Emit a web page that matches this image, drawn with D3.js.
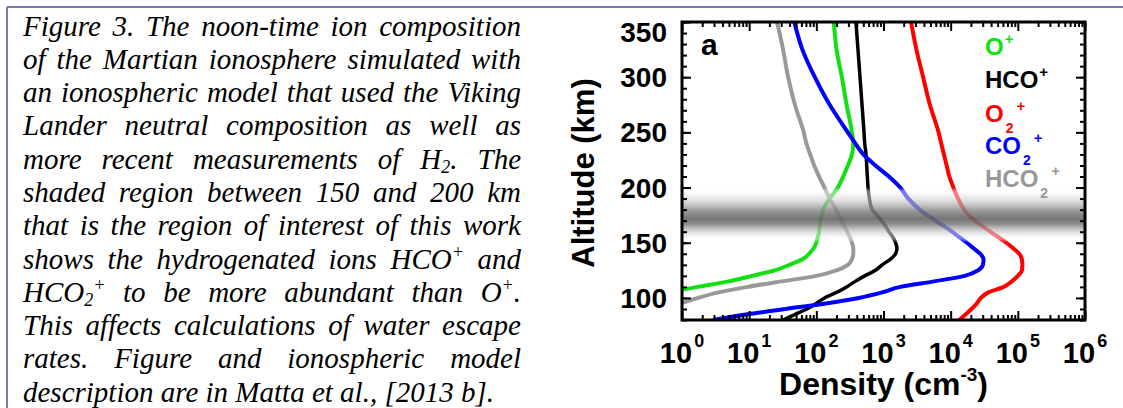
<!DOCTYPE html>
<html>
<head>
<meta charset="utf-8">
<script src="https://cdn.jsdelivr.net/npm/d3@7"></script>
<style>
html, body { margin: 0; padding: 0; background: #fff; width: 1123px; height: 408px; overflow: hidden; }
#caption { position: absolute; left: 23px; top: 9.5px; width: 498px;
  font-family: "Liberation Serif", "Times New Roman", serif; font-style: italic;
  font-size: 29px; line-height: 33.3px; color: #000; }
#caption .ln { text-align: justify; text-align-last: justify; height: 33.3px; }
#caption .ln.last { text-align-last: left; }
#caption sub, #caption sup { font-size: 0.62em; line-height: 0; }
#caption sub { vertical-align: -0.2em; }
#caption sup { vertical-align: 0.6em; }
svg { position: absolute; left: 0; top: 0; }
</style>
</head>
<body>
<script>
// ---------------- DATA ----------------
const altitudes = [80, 85, 90, 95, 100, 105, 110, 115, 120, 125, 130, 135, 140, 145, 150, 155,
                   160, 165, 170, 175, 180, 190, 200, 210, 220, 230, 240, 250, 275, 300, 325, 350];
const densityOplus = [null, null, null, null, null, 0.6, 1.7, 4.9, 11, 24, 40, 62, 78, 91, 100, 105,
                      110, 112, 115, 120, 126, 158, 209, 251, 295, 339, 355, 339, 282, 240, 200, 182];
const densityHCOplus = [32, 48, 72, 100, 132, 200, 282, 380, 525, 759, 955, 1259, 1514, 1585, 1514, 1380,
                        1202, 1072, 933, 794, 676, 617, 589, 575, 562, 550, 525, 513, 479, 447, 417, 389];
const densityO2plus = [13500, 16600, 20400, 24500, 28200, 36300, 61700, 81300, 100000, 115000, 117000, 115000, 105000, 85000, 67600, 51300,
                       38900, 29500, 22900, 18600, 15800, 12900, 11000, 9550, 8710, 7940, 7240, 6610, 4900, 3890, 3090, 2570];
const densityCO2plus = [2.9, 8.9, 35, 138, 427, 955, 1778, 5623, 16200, 25700, 30200, 30900, 27500, 21900, 17400, 13500,
                        10500, 7940, 5890, 4470, 3470, 2340, 1778, 1202, 759, 501, 380, 295, 158, 95, 62, 47];
const densityHCO2plus = [null, null, 0.5, 0.95, 1.74, 3.5, 9.5, 30, 100, 200, 295, 339, 355, 355, 339, 316,
                         288, 263, 240, 214, 195, 158, 132, 110, 93, 81, 71, 65, 48, 38, 32, 26];

const seriesKeys = ["O+", "HCO+", "O2+", "CO2+", "HCO2+"];
const seriesValues = [densityOplus, densityHCOplus, densityO2plus, densityCO2plus, densityHCO2plus];

const altitudeTicks = [100, 150, 200, 250, 300, 350];
const altitudeMinorTicks = d3.range(80, 351, 10);
const densityDecades = [0, 1, 2, 3, 4, 5, 6];
const shadedRegion = [150, 200];
const panelLabel = "a";
const xTitle = "Density (cm";
const xTitleSup = "-3";
const yTitle = "Altitude (km)";

const captionLines = [
  "Figure 3. The noon-time ion composition",
  "of the Martian ionosphere simulated with",
  "an ionospheric model that used the Viking",
  "Lander neutral composition as well as",
  "more recent measurements of H<sub>2</sub>. The",
  "shaded region between 150 and 200 km",
  "that is the region of interest of this work",
  "shows the hydrogenated ions HCO<sup>+</sup> and",
  "HCO<sub>2</sub><sup>+</sup> to be more abundant than O<sup>+</sup>.",
  "This affects calculations of water escape",
  "rates. Figure and ionospheric model",
  "description are in Matta et al., [2013 b]."
];

// legend: base text, subscript, superscript
const legendBase = ["O", "HCO", "O", "CO", "HCO"];
const legendSub = ["", "", "2", "2", "2"];
const legendSup = ["+", "+", "+", "+", "+"];

// ---------------- STYLE ----------------
const colors = ["#12e012", "#000000", "#ff0000", "#0000ff", "#999999"];
const widths = [4, 3.5, 4, 4, 4];
const W = 1123, H = 408;
const plot = { left: 682, right: 1085, top: 22, bottom: 320 };
const frameColor = "#7a7aaa";
const font = "'Liberation Sans', Arial, sans-serif";

// ---------------- CAPTION ----------------
const cap = d3.select("body").append("div").attr("id", "caption");
cap.selectAll("div.ln").data(captionLines).join("div")
  .attr("class", (d, i) => i === captionLines.length - 1 ? "ln last" : "ln")
  .html(d => d);
// keep each caption line on a single row: tighten spacing only if a line would wrap
cap.selectAll("div.ln").each(function () {
  let ls = 0;
  while (this.scrollHeight > 40 && ls > -1.5) {
    ls -= 0.1;
    this.style.letterSpacing = ls + "px";
  }
});

// ---------------- SVG ----------------
const svg = d3.select("body").append("svg").attr("width", W).attr("height", H);

// frame (top and left edges of the surrounding box)
svg.append("line").attr("x1", 7).attr("x2", W).attr("y1", 7).attr("y2", 7)
  .attr("stroke", frameColor).attr("stroke-width", 2);
svg.append("line").attr("x1", 7).attr("x2", 7).attr("y1", 7).attr("y2", H)
  .attr("stroke", frameColor).attr("stroke-width", 2);

const x = d3.scaleLog().domain([1, 1e6]).range([plot.left, plot.right]);
const y = d3.scaleLinear().domain([80, 350]).range([plot.bottom, plot.top]);

const defs = svg.append("defs");
defs.append("clipPath").attr("id", "clip").append("rect")
  .attr("x", plot.left).attr("y", plot.top)
  .attr("width", plot.right - plot.left).attr("height", plot.bottom - plot.top);

const grad = defs.append("linearGradient").attr("id", "band")
  .attr("x1", 0).attr("y1", 0).attr("x2", 0).attr("y2", 1);
[[0, "#ffffff", 0], [0.06, "#ffffff", 0.45], [0.22, "#d0d0d0", 0.6], [0.42, "#858585", 0.84],
 [0.56, "#666666", 0.9], [0.66, "#7a7a7a", 0.86], [0.8, "#c8c8c8", 0.65], [0.93, "#ffffff", 0.45], [1, "#ffffff", 0]]
  .forEach(s => grad.append("stop").attr("offset", s[0]).attr("stop-color", s[1]).attr("stop-opacity", s[2]));

const plotG = svg.append("g").attr("clip-path", "url(#clip)");

const line = d3.line()
  .defined(d => d.v != null)
  .x(d => x(d.v))
  .y(d => y(d.alt))
  .curve(d3.curveMonotoneY);

const drawOrder = [1, 0, 4, 3, 2];
drawOrder.forEach(i => {
  const pts = altitudes.map((a, k) => ({ alt: a, v: seriesValues[i][k] }));
  plotG.append("path").datum(pts)
    .attr("d", line)
    .attr("fill", "none")
    .attr("stroke", colors[i])
    .attr("stroke-width", widths[i])
    .attr("stroke-linejoin", "round")
    .attr("stroke-linecap", "butt");
});

// shaded region of interest (drawn over the curves)
plotG.append("rect")
  .attr("x", plot.left).attr("width", plot.right - plot.left)
  .attr("y", y(shadedRegion[1])).attr("height", y(shadedRegion[0]) - y(shadedRegion[1]))
  .attr("fill", "url(#band)");

// axes ticks (inward on all four sides)
const minorDensity = [];
densityDecades.slice(0, -1).forEach(e => { for (let m = 2; m <= 9; m++) minorDensity.push(m * Math.pow(10, e)); });
const majorDensity = densityDecades.map(e => Math.pow(10, e));

function styleAxis(g) {
  g.select(".domain").remove();
  g.selectAll(".tick line").attr("stroke", "#000").attr("stroke-width", 2);
  g.selectAll(".tick text").remove();
}
svg.append("g").attr("transform", `translate(0,${plot.bottom})`)
  .call(d3.axisBottom(x).tickValues(majorDensity).tickSize(-9)).call(styleAxis);
svg.append("g").attr("transform", `translate(0,${plot.bottom})`)
  .call(d3.axisBottom(x).tickValues(minorDensity).tickSize(-5)).call(styleAxis);
svg.append("g").attr("transform", `translate(0,${plot.top})`)
  .call(d3.axisTop(x).tickValues(majorDensity).tickSize(-9)).call(styleAxis);
svg.append("g").attr("transform", `translate(0,${plot.top})`)
  .call(d3.axisTop(x).tickValues(minorDensity).tickSize(-5)).call(styleAxis);
svg.append("g").attr("transform", `translate(${plot.left},0)`)
  .call(d3.axisLeft(y).tickValues(altitudeTicks).tickSize(-9)).call(styleAxis);
svg.append("g").attr("transform", `translate(${plot.left},0)`)
  .call(d3.axisLeft(y).tickValues(altitudeMinorTicks).tickSize(-5)).call(styleAxis);
svg.append("g").attr("transform", `translate(${plot.right},0)`)
  .call(d3.axisRight(y).tickValues(altitudeTicks).tickSize(-9)).call(styleAxis);
svg.append("g").attr("transform", `translate(${plot.right},0)`)
  .call(d3.axisRight(y).tickValues(altitudeMinorTicks).tickSize(-5)).call(styleAxis);

// plot frame
svg.append("rect").attr("x", plot.left).attr("y", plot.top)
  .attr("width", plot.right - plot.left).attr("height", plot.bottom - plot.top)
  .attr("fill", "none").attr("stroke", "#000").attr("stroke-width", 3);

// y tick labels
svg.append("g").selectAll("text").data(altitudeTicks).join("text")
  .attr("x", plot.left - 15)
  .attr("y", d => Math.max(y(d), plot.top + 9.5))
  .attr("dy", "0.36em")
  .attr("text-anchor", "end")
  .attr("font-family", font).attr("font-weight", "bold").attr("font-size", 28)
  .text(d => d);

// x tick labels 10^n
const xl = svg.append("g").selectAll("text").data(densityDecades).join("text")
  .attr("x", d => x(Math.pow(10, d)))
  .attr("y", 363)
  .attr("text-anchor", "middle")
  .attr("font-family", font).attr("font-weight", "bold").attr("font-size", 29);
xl.append("tspan").text("10");
xl.append("tspan").attr("dy", -16).attr("dx", 2).attr("font-size", 18).text(d => d);

// axis titles
const xt = svg.append("text")
  .attr("x", (plot.left + plot.right) / 2).attr("y", 395)
  .attr("text-anchor", "middle")
  .attr("font-family", font).attr("font-weight", "bold").attr("font-size", 32);
xt.append("tspan").text(xTitle);
xt.append("tspan").attr("dy", -14).attr("font-size", 19).text(xTitleSup);
xt.append("tspan").attr("dy", 14).text(")");

svg.append("text")
  .attr("transform", `translate(594,${(plot.top + plot.bottom) / 2 + 2}) rotate(-90)`)
  .attr("text-anchor", "middle")
  .attr("font-family", font).attr("font-weight", "bold").attr("font-size", 31)
  .text(yTitle);

// panel label
svg.append("text").attr("x", 701).attr("y", 55)
  .attr("font-family", font).attr("font-weight", "bold").attr("font-size", 30)
  .text(panelLabel);

// legend
const legendX = 985;
const legendY = [55, 88, 122, 154, 187];
seriesKeys.forEach((k, i) => {
  const g = svg.append("g").attr("fill", colors[i])
    .attr("font-family", font).attr("font-weight", "bold");
  const base = g.append("text").attr("x", legendX).attr("y", legendY[i])
    .attr("font-size", 24).text(legendBase[i]);
  let xe = legendX + base.node().getComputedTextLength();
  if (legendSub[i]) {
    const s = g.append("text").attr("x", xe + 2).attr("y", legendY[i] + 11)
      .attr("font-size", 14).text(legendSub[i]);
    xe = xe + 2 + s.node().getComputedTextLength() + 3;
  } else {
    xe = xe + 1;
  }
  g.append("text").attr("x", xe).attr("y", legendY[i] - 11)
    .attr("font-size", 15).text(legendSup[i]);
});
</script>
</body>
</html>
